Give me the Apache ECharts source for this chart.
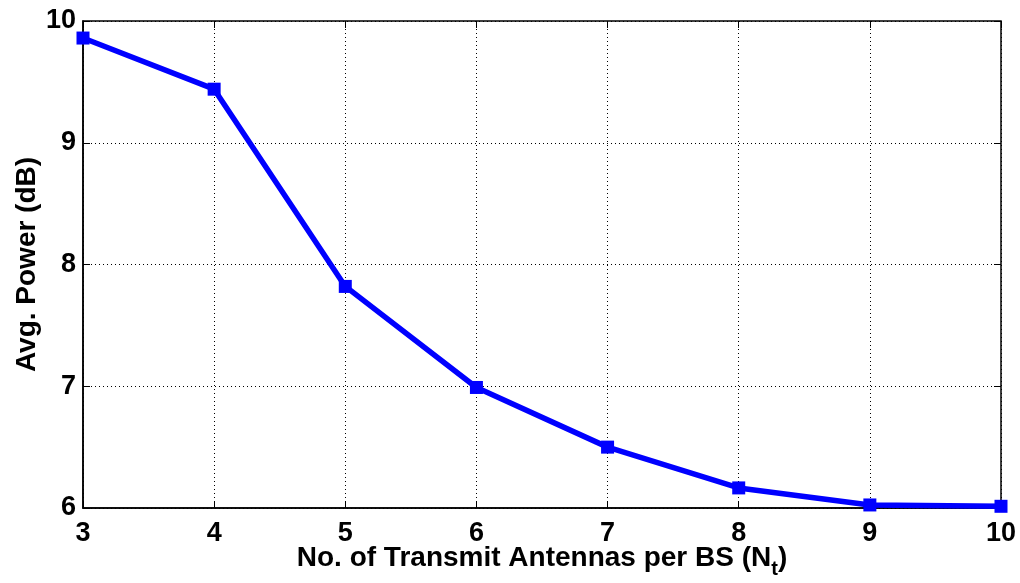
<!DOCTYPE html>
<html>
<head>
<meta charset="utf-8">
<script src="https://cdn.jsdelivr.net/npm/echarts@6/dist/echarts.min.js"></script>
<style>html,body{margin:0;padding:0;background:#fff;}#c{width:1020px;height:583px;}</style>
</head>
<body>
<div id="c"></div>
<script>
const antennas = [3, 4, 5, 6, 7, 8, 9, 10];
const avgPower = [9.86, 9.44, 7.82, 6.99, 6.50, 6.165, 6.025, 6.014];
const xTitle = 'No. of Transmit Antennas per BS (N{sub|t})';
const yTitle = 'Avg. Power (dB)';

const font = '"Liberation Sans", Arial, sans-serif';
const chart = echarts.init(document.getElementById('c'));
const tickCommon = { inside: true, length: 7, lineStyle: { color: '#000', width: 1 } };
const gridLine = { show: true, lineStyle: { color: '#000', type: [1, 3], width: 1 } };
chart.setOption({
  animation: false,
  backgroundColor: '#fff',
  grid: { left: 83, right: 19, top: 21, bottom: 75, show: true, borderColor: '#000', borderWidth: 1.5,
          containLabel: false, outerBoundsMode: 'none' },
  xAxis: [{
    type: 'value', min: 3, max: 10, interval: 1,
    name: xTitle, nameLocation: 'middle', nameGap: 29, nameMoveOverlap: false,
    nameTextStyle: { fontFamily: font, fontWeight: 'bold', fontSize: 28, color: '#000',
      rich: { sub: { fontFamily: font, fontWeight: 'bold', fontSize: 20, color: '#000', padding: [22, 0, 0, 0] } } },
    axisLine: { show: true, lineStyle: { color: '#000', width: 1.5 } },
    axisTick: tickCommon,
    axisLabel: { fontFamily: font, fontWeight: 'bold', fontSize: 27, color: '#000', margin: 12 },
    splitLine: gridLine
  }, {
    type: 'value', min: 3, max: 10, interval: 1, position: 'top',
    axisLine: { show: false }, axisTick: tickCommon, axisLabel: { show: false }, splitLine: { show: false }
  }],
  yAxis: [{
    type: 'value', min: 6, max: 10, interval: 1,
    name: yTitle, nameLocation: 'middle', nameGap: 42, nameMoveOverlap: false,
    nameTextStyle: { fontFamily: font, fontWeight: 'bold', fontSize: 28, color: '#000' },
    axisLine: { show: true, lineStyle: { color: '#000', width: 1.5 } },
    axisTick: tickCommon,
    axisLabel: { fontFamily: font, fontWeight: 'bold', fontSize: 27, color: '#000', margin: 7 },
    splitLine: gridLine
  }, {
    type: 'value', min: 6, max: 10, interval: 1, position: 'right',
    axisLine: { show: false }, axisTick: tickCommon, axisLabel: { show: false }, splitLine: { show: false }
  }],
  series: [{
    type: 'line',
    data: antennas.map((x, i) => [x, avgPower[i]]),
    symbol: 'rect', symbolSize: 13,
    lineStyle: { color: '#0000ff', width: 5.5 },
    itemStyle: { color: '#0000ff' },
    clip: false
  }]
});
</script>
</body>
</html>
